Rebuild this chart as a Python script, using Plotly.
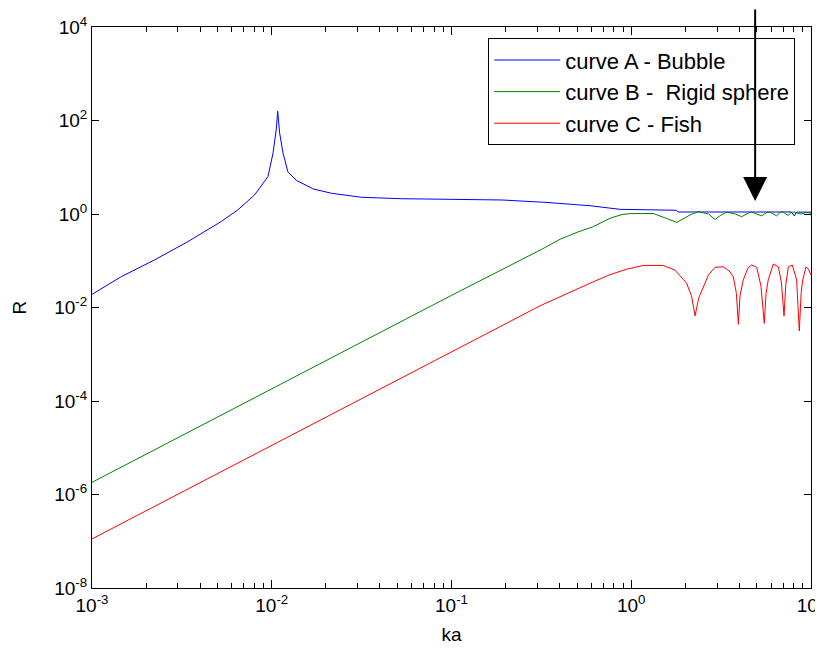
import numpy as np
import plotly.graph_objects as go

# ---- data (log10 of ka and log10 of R) ----
logka_A = [-3.000, -2.837, -2.651, -2.466, -2.281, -2.188, -2.095, -2.021, -1.993, -1.975,
           -1.967, -1.956, -1.937, -1.910, -1.863, -1.802, -1.769, -1.667, -1.602, -1.500,
           -1.277, -0.721, -0.480, -0.276, -0.229, -0.063, 0.250, 0.262, 0.850, 0.890,
           0.907, 0.920, 1.000]
logR_A = [-1.72, -1.34, -0.98, -0.59, -0.16, 0.09, 0.41, 0.80, 1.30, 1.80,
          2.20, 1.73, 1.30, 0.90, 0.72, 0.59, 0.535, 0.443, 0.406, 0.357,
          0.327, 0.30, 0.25, 0.19, 0.177, 0.10, 0.08, 0.043, 0.043, 0.043,
          -0.04, 0.04, 0.04]

logka_B = [-3.0, -2.0, -1.0, -0.498, -0.396, -0.30, -0.211, -0.118, -0.05, 0.0,
           0.123, 0.20, 0.253, 0.30, 0.327, 0.373, 0.392, 0.43, 0.466, 0.50,
           0.531, 0.58, 0.614, 0.65, 0.670, 0.70, 0.726, 0.755, 0.772, 0.79,
           0.809, 0.83, 0.846, 0.86, 0.874, 0.89, 0.911, 0.93, 0.948, 0.97, 1.0]
logR_B = [-5.74, -3.74, -1.74, -0.755, -0.54, -0.39, -0.27, -0.09, -0.01, 0.01,
          0.01, -0.10, -0.18, -0.08, -0.02, 0.05, 0.036, 0.0, -0.115, -0.02,
          0.04, 0.0, -0.06, 0.02, 0.04, 0.0, -0.04, 0.04, 0.04, 0.0,
          -0.04, 0.04, 0.04, 0.0, -0.03, 0.04, 0.04, 0.01, 0.0, 0.03, 0.02]

logka_C = [-3.0, -2.0, -1.0, -0.5, -0.396, -0.30, -0.211, -0.12, -0.025, 0.067,
           0.178, 0.243, 0.308, 0.335, 0.355, 0.375, 0.401, 0.43, 0.466, 0.512,
           0.545, 0.568, 0.585, 0.596, 0.605, 0.623, 0.650, 0.670, 0.698, 0.722,
           0.740, 0.750, 0.762, 0.790, 0.818, 0.835, 0.850, 0.860, 0.874, 0.896,
           0.92, 0.935, 0.945, 0.954, 0.972, 0.985, 1.0]
logR_C = [-6.95, -4.95, -2.95, -1.95, -1.77, -1.60, -1.45, -1.30, -1.18, -1.10,
          -1.10, -1.20, -1.48, -1.75, -2.18, -1.80, -1.55, -1.30, -1.14, -1.13,
          -1.22, -1.34, -1.70, -2.36, -1.75, -1.41, -1.15, -1.09, -1.14, -1.55,
          -2.34, -1.70, -1.41, -1.07, -1.13, -1.45, -2.18, -1.50, -1.13, -1.09,
          -1.41, -2.50, -1.70, -1.41, -1.13, -1.18, -1.30]

names = ["curve A - Bubble", "curve B - \u00a0Rigid sphere", "curve C - Fish"]
colors = ["#0000ff", "#008000", "#ff0000"]

x_major = [1e-3, 1e-2, 1e-1, 1e0, 1e1]
x_major_text = ["10<sup>-3</sup>", "10<sup>-2</sup>", "10<sup>-1</sup>", "10<sup>0</sup>", "10<sup>1</sup>"]
y_major = [1e-8, 1e-6, 1e-4, 1e-2, 1e0, 1e2, 1e4]
y_major_text = ["10<sup>-8</sup>", "10<sup>-6</sup>", "10<sup>-4</sup>", "10<sup>-2</sup>",
                "10<sup>0</sup>", "10<sup>2</sup>", "10<sup>4</sup>"]
x_minor = [m * d for d in [1e-3, 1e-2, 1e-1, 1e0] for m in range(2, 10)]

arrow_ka = 4.89      # where the arrow points
arrow_R = 1.9

FONT = "Arial, 'Liberation Sans', sans-serif"

fig = go.Figure()
for lx, ly, nm, c in [(logka_A, logR_A, names[0], colors[0]),
                      (logka_B, logR_B, names[1], colors[1]),
                      (logka_C, logR_C, names[2], colors[2])]:
    fig.add_trace(go.Scatter(x=10 ** np.array(lx), y=10 ** np.array(ly), mode="lines",
                             name=nm, line=dict(color=c, width=1)))

fig.add_annotation(x=np.log10(arrow_ka), y=np.log10(arrow_R), xref="x", yref="y",
                   ax=0, ay=-201, showarrow=True, arrowhead=2, arrowsize=2.4,
                   arrowwidth=2, arrowcolor="black", text="")

axis_common = dict(type="log", showline=True, linecolor="black", linewidth=1, mirror="ticks",
                   ticks="inside", tickcolor="black", showgrid=False, zeroline=False,
                   automargin=False, ticklabeloverflow="allow",
                   tickfont=dict(family=FONT, size=19, color="black"))

fig.update_xaxes(range=[-3, 1], tickvals=x_major, ticktext=x_major_text, ticklen=8,
                 minor=dict(ticks="inside", tickvals=x_minor, ticklen=5, tickcolor="black", showgrid=False),
                 title=dict(text="ka", font=dict(family=FONT, size=19, color="black"), standoff=12),
                 **axis_common)
fig.update_yaxes(range=[-8, 4], tickvals=y_major, ticktext=y_major_text, ticklen=7,
                 title=dict(text="R", font=dict(family=FONT, size=19, color="black"), standoff=22),
                 **axis_common)

# page body has an 8px margin, so the figure is drawn 8px in from the window edge
fig.update_layout(
    width=815, height=647,
    margin=dict(l=84, r=12, t=19, b=67),
    plot_bgcolor="white", paper_bgcolor="white",
    font=dict(family=FONT, size=19, color="black"),
    legend=dict(x=0.978, y=0.980, xanchor="right", yanchor="top",
                bgcolor="white", bordercolor="black", borderwidth=1,
                font=dict(family=FONT, size=22, color="black"),
                itemwidth=66, tracegroupgap=0),
    showlegend=True,
)

fig.write_html("out.html")
